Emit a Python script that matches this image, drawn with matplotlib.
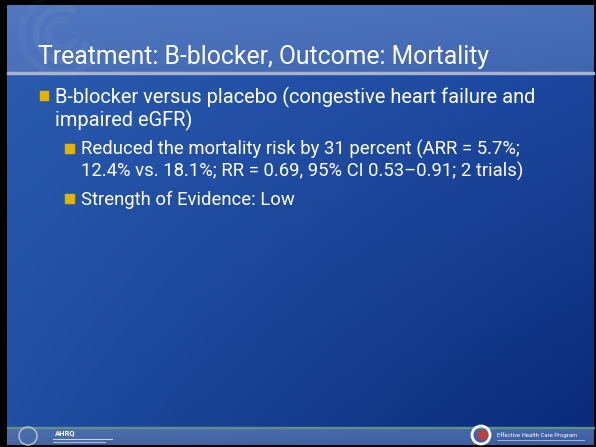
import numpy as np
import matplotlib.pyplot as plt
from matplotlib.patches import Rectangle, Circle, Arc

title = "Treatment: B-blocker, Outcome: Mortality"
level1_lines = ["B-blocker versus placebo (congestive heart failure and",
                "impaired eGFR)"]
level2_items = [["Reduced the mortality risk by 31 percent (ARR = 5.7%;",
                 "12.4% vs. 18.1%; RR = 0.69, 95% CI 0.53\u20130.91; 2 trials)"],
                ["Strength of Evidence: Low"]]
footer_left = "AHRQ"
footer_right = "Effective Health Care Program"

W, H = 596, 447
fig = plt.figure(figsize=(W / 100, H / 100), dpi=100, facecolor="black")
ax = fig.add_axes([0, 0, 1, 1])
ax.set_xlim(0, W)
ax.set_ylim(H, 0)
ax.axis("off")
ax.set_facecolor("black")


def hexrgb(h):
    return np.array([int(h[i:i + 2], 16) for i in (1, 3, 5)]) / 255.0


def gradient(x0, x1, y0, y1, tl, tr, bl, br):
    nx, ny = 120, 80
    u = np.linspace(0, 1, nx)[None, :, None]
    v = np.linspace(0, 1, ny)[:, None, None]
    tl, tr, bl, br = map(hexrgb, (tl, tr, bl, br))
    img = (1 - v) * ((1 - u) * tl + u * tr) + v * ((1 - u) * bl + u * br)
    ax.imshow(img, extent=(x0, x1, y1, y0), aspect="auto",
              interpolation="bilinear", zorder=1)


# slide background
gradient(7, 594, 5, 73, "#5077bf", "#4a70ba", "#4a70ba", "#3f65b1")
gradient(7, 594, 74, 427, "#2a5aae", "#1c469e", "#1f4ea2", "#0a2a78")
gradient(7, 594, 428, 445, "#4d6fb0", "#4668ab", "#46679f", "#3a5ca0")
ax.add_patch(Rectangle((7, 72), 587, 2.2, color="#a7b2cc", zorder=2))
ax.add_patch(Rectangle((7, 426.5), 587, 1.6, color="#5f8f86", zorder=2))

# faint swirl in the title band
for r, a in [(26, 0.05), (14, 0.04), (40, 0.035)]:
    ax.add_patch(Arc((62, 34), 2 * r, 2 * r, theta1=20, theta2=300,
                     color="white", alpha=a, lw=5, zorder=2))
ax.set_xlim(0, W)
ax.set_ylim(H, 0)

font = "Roboto"
fig.canvas.draw()
renderer = fig.canvas.get_renderer()


def fitted(x, y, s, width, size, **kw):
    t = ax.text(x, y, s, fontsize=size, va="baseline", ha="left",
                color="white", family=font, zorder=5, **kw)
    bb = t.get_window_extent(renderer)
    t.set_fontsize(size * width / bb.width)
    return t.get_fontsize()


def text(x, y, s, size, **kw):
    ax.text(x, y, s, fontsize=size, va="baseline", ha="left",
            color="white", family=font, zorder=5, **kw)


bullet_col = "#e0b400"

# title
fitted(38, 64, title, 453, 16)

# level 1
fs1 = fitted(55, 103, level1_lines[0], 482, 13)
text(55, 126, level1_lines[1], fs1)
ax.add_patch(Rectangle((40, 91), 8, 9, color=bullet_col, zorder=5))

# level 2
fs2 = None
y = 155
for item in level2_items:
    ax.add_patch(Rectangle((65, y - 11.5), 8.5, 9, color=bullet_col, zorder=5))
    for j, line in enumerate(item):
        if fs2 is None:
            fs2 = fitted(81, y, line, 437, 12)
        else:
            text(81, y, line, fs2)
        y += 22
    y += 6

# footer logos
ax.add_patch(Circle((28, 436), 9, fill=False, ec="#b8c4dc", lw=1.0, zorder=5))
ax.text(55, 435, footer_left, fontsize=5.5, fontweight="bold", color="white",
        family=font, va="baseline", zorder=5)
ax.plot([53, 112], [439, 439], color="#c8d2e6", lw=0.8, zorder=5)
ax.plot([53, 105], [441.5, 441.5], color="#c8d2e6", lw=0.6, zorder=5)
ax.add_patch(Circle((481, 435), 9, fill=False, ec="white", lw=2, zorder=5))
ax.add_patch(Circle((483, 435), 4.5, color="#c04040", zorder=5))
ax.text(497, 437, footer_right, fontsize=4.3, color="white",
        family=font, va="baseline", zorder=5)
ax.plot([497, 584], [439.5, 439.5], color="#c8d2e6", lw=0.5, zorder=5)

fig.savefig("out.png", dpi=100, facecolor="black")
